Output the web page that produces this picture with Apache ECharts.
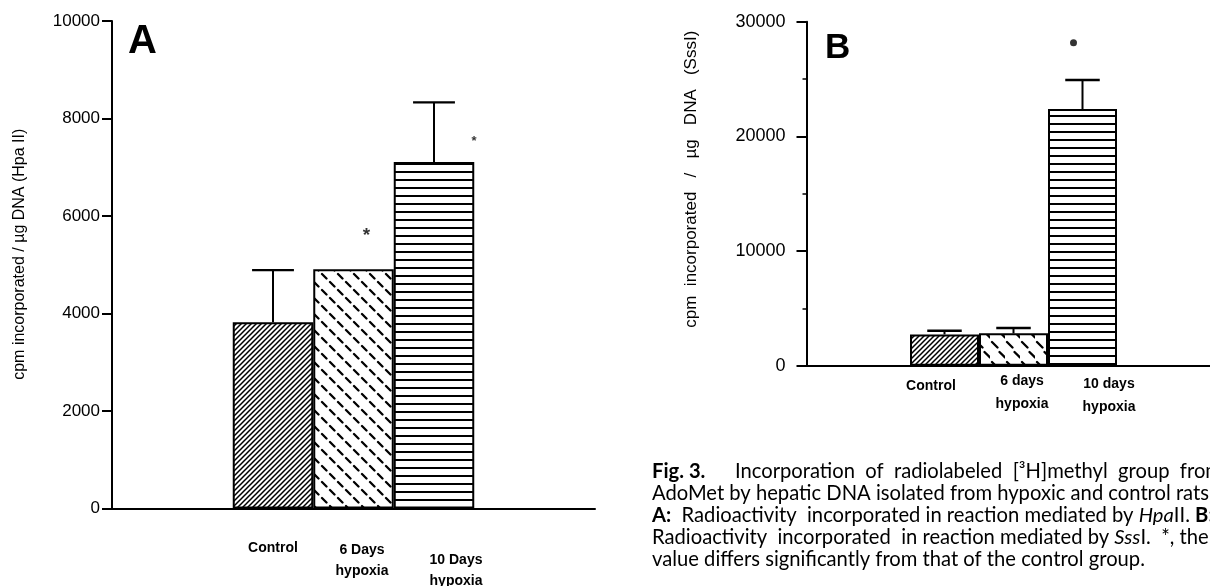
<!DOCTYPE html>
<html><head><meta charset="utf-8">
<script src="https://cdn.jsdelivr.net/npm/echarts@6/dist/echarts.min.js"></script>
<style>html,body{margin:0;padding:0;background:#fff}#c{width:1210px;height:586px}</style>
</head><body><div id="c"></div>
<script>
// ---- data ----
const categoriesA = ['Control', '6 Days\nhypoxia', '10 Days\nhypoxia'];
const valuesA = [3820, 4910, 7110];
const errorsA = [1070, null, 1220];
const markerA = [null, 5680, 7580];
const ticksA = [0, 2000, 4000, 6000, 8000, 10000];

const categoriesB = ['Control', '6 days\nhypoxia', '10 days\nhypoxia'];
const valuesB = [2730, 2820, 22380];
const errorsB = [320, 470, 2530];
const markerB = [null, null, 28170];
const ticksB = [0, 10000, 20000, 30000];

const yNameA = 'cpm incorporated / µg DNA (Hpa II)';
const yNameB = 'cpm  incorporated   /   µg   DNA   (SssI)';

// ---- patterns ----
function pat(w, h, draw) {
  const c = document.createElement('canvas'); c.width = w; c.height = h;
  const x = c.getContext('2d'); x.fillStyle = '#fff'; x.fillRect(0, 0, w, h);
  x.strokeStyle = '#000'; x.fillStyle = '#000'; draw(x, w, h);
  return { image: c, repeat: 'repeat' };
}
function diag(s, lw) {
  return pat(s, s, (x, w, h) => {
    x.lineWidth = lw; x.beginPath();
    x.moveTo(-1, h + 1); x.lineTo(w + 1, -1);
    x.moveTo(-1, 1); x.lineTo(1, -1);
    x.moveTo(w - 1, h + 1); x.lineTo(w + 1, h - 1);
    x.stroke();
  });
}
function dashes(w, h, len, lw) {
  return pat(w, h, (x) => {
    x.lineWidth = lw; x.lineCap = 'round'; x.beginPath();
    x.moveTo(2, 2); x.lineTo(2 + len, 2 + len);
    x.moveTo(2 + w / 2, 2 + h / 2); x.lineTo(2 + w / 2 + len, 2 + h / 2 + len);
    x.stroke();
  });
}
function stripes(h, lw) {
  return pat(4, h, (x) => { x.fillRect(0, Math.floor(h / 2) - 1, 4, lw); });
}
const patternsA = [diag(5, 1.5), dashes(16, 16, 4.5, 2.3), stripes(8, 2)];
const patternsB = [diag(5, 1.5), dashes(15, 20, 5.5, 2.3), stripes(8, 2)];

const PAD = 2;
function catData(cats, styles) {
  return [' ', '  '].concat(cats.map((c, i) => ({ value: c, textStyle: styles[i] }))).concat(['   ', '    ']);
}
function barData(values, patterns) {
  const d = ['-', '-'];
  values.forEach((v, i) => d.push({ value: v, itemStyle: { color: patterns[i] } }));
  d.push('-', '-');
  return d;
}
function errData(values, errors) {
  const d = [];
  values.forEach((v, i) => { if (errors[i] != null) d.push([PAD + i, v, v + errors[i]]); });
  return d;
}
function errSeries(ax, values, errors, capFrac) {
  return {
    type: 'custom', xAxisIndex: ax, yAxisIndex: ax, z: 5,
    encode: { x: 0, y: [1, 2] },
    data: errData(values, errors),
    renderItem(params, api) {
      const xi = api.value(0);
      const p0 = api.coord([xi, api.value(1)]);
      const p1 = api.coord([xi, api.value(2)]);
      const bw = api.size([1, 0], [xi, api.value(1)])[0];
      const hw = bw * capFrac;
      return { type: 'group', children: [
        { type: 'line', shape: { x1: p0[0], y1: p0[1], x2: p1[0], y2: p1[1] }, style: { stroke: '#000', lineWidth: 2 } },
        { type: 'line', shape: { x1: p1[0] - hw, y1: p1[1], x2: p1[0] + hw, y2: p1[1] }, style: { stroke: '#000', lineWidth: 2.4 } }
      ] };
    }
  };
}

const FONT = 'Liberation Sans';
const CAP = 'Lato';
const CAPSIZE = 20.2;
const axisBlack = { lineStyle: { color: '#000', width: 2 } };
const capRich = {
  b: { fontWeight: 'bold', fontFamily: CAP, fontSize: CAPSIZE },
  i: { fontStyle: 'italic', fontFamily: CAP, fontSize: CAPSIZE }
};
function capLine(x, y, text) {
  return { type: 'text', x: x, y: y, style: { text: text, font: CAPSIZE + 'px Lato', fill: '#000', verticalAlign: 'middle', rich: capRich } };
}

const option = {
  animation: false,
  backgroundColor: '#fff',
  grid: [
    { left: 112, right: 615, top: 21, bottom: 77.5, outerBoundsMode: 'none' },
    { left: 806.5, right: -10.5, top: 21.7, bottom: 220.3, outerBoundsMode: 'none' }
  ],
  xAxis: [
    {
      gridIndex: 0, type: 'category', boundaryGap: false,
      data: catData(categoriesA, [
        { padding: [0, 0, 0, 0] },
        { padding: [1.5, 0, 0, 17] },
        { padding: [11.5, 0, 0, 44] }
      ]),
      axisLine: axisBlack, axisTick: { show: false },
      axisLabel: { interval: 0, margin: 29.5, color: '#000', fontFamily: FONT, fontWeight: 'bold', fontSize: 14, lineHeight: 21 }
    },
    {
      gridIndex: 1, type: 'category', boundaryGap: false,
      data: catData(categoriesB, [
        { padding: [5, 27, 0, 0] },
        { padding: [0, 0, 0, 17] },
        { padding: [3, 0, 0, 53] }
      ]),
      axisLine: axisBlack, axisTick: { show: false },
      axisLabel: { interval: 0, margin: 3.5, color: '#000', fontFamily: FONT, fontWeight: 'bold', fontSize: 14, lineHeight: 23 }
    }
  ],
  yAxis: [
    {
      gridIndex: 0, type: 'value', min: ticksA[0], max: ticksA[ticksA.length - 1], interval: ticksA[1] - ticksA[0],
      axisLine: { show: true, lineStyle: { color: '#000', width: 2 } },
      axisTick: { show: true, length: 10, lineStyle: { color: '#000', width: 2 } },
      axisLabel: { margin: 12, color: '#000', fontFamily: FONT, fontSize: 17, formatter: v => String(v) },
      splitLine: { show: false },
      name: yNameA, nameLocation: 'middle', nameRotate: 90, nameGap: 84,
      nameTextStyle: { color: '#000', fontFamily: FONT, fontSize: 16, padding: [0, 0, 0, 21] }
    },
    {
      gridIndex: 1, type: 'value', min: ticksB[0], max: ticksB[ticksB.length - 1], interval: ticksB[1] - ticksB[0],
      axisLine: { show: true, lineStyle: { color: '#000', width: 2 } },
      axisTick: { show: true, length: 10, lineStyle: { color: '#000', width: 2 } },
      minorTick: { show: true, splitNumber: 2, length: 4, lineStyle: { color: '#000', width: 1.5 } },
      axisLabel: { margin: 21, color: '#000', fontFamily: FONT, fontSize: 18, formatter: v => String(v) },
      splitLine: { show: false },
      name: yNameB, nameLocation: 'middle', nameRotate: 90, nameGap: 107,
      nameTextStyle: { color: '#000', fontFamily: FONT, fontSize: 17, padding: [0, 0, 0, 29] }
    }
  ],
  series: [
    { type: 'bar', xAxisIndex: 0, yAxisIndex: 0, barWidth: '100%', data: barData(valuesA, patternsA),
      itemStyle: { borderColor: '#000', borderWidth: 2 } },
    { type: 'bar', xAxisIndex: 1, yAxisIndex: 1, barWidth: '100%', data: barData(valuesB, patternsB),
      itemStyle: { borderColor: '#000', borderWidth: 2 } },
    errSeries(0, valuesA, errorsA, 0.26),
    errSeries(1, valuesB, errorsB, 0.25),
    {
      type: 'scatter', xAxisIndex: 0, yAxisIndex: 0, symbolSize: 0, z: 6,
      data: markerA.map((m, i) => m == null ? null : { value: [PAD + i, m],
        label: i === 1 ? { offset: [13, 4], fontSize: 19 } : { offset: [40, 2.5], fontSize: 13 } }).filter(Boolean),
      label: { show: true, position: 'inside', formatter: '*', color: '#000', fontFamily: FONT, fontWeight: 'bold' }
    },
    {
      type: 'scatter', xAxisIndex: 1, yAxisIndex: 1, symbol: 'circle', symbolSize: 7, symbolOffset: [-9, 0], z: 6,
      itemStyle: { color: '#000' },
      data: markerB.map((m, i) => m == null ? null : [PAD + i, m]).filter(Boolean)
    }
  ],
  graphic: [
    { type: 'text', left: 128, top: 22, style: { text: 'A', font: 'bold 40px "Liberation Sans"', fill: '#000' } },
    { type: 'text', left: 825, top: 31, style: { text: 'B', font: 'bold 35px "Liberation Sans"', fill: '#000' } },
    capLine(652, 471, '{b|Fig. 3.}'),
    capLine(735, 471, 'Incorporation  of  radiolabeled  [³H]methyl  group  from'),
    capLine(652, 493, 'AdoMet by hepatic DNA isolated from hypoxic and control rats.'),
    capLine(652, 515, '{b|A:}  Radioactivity  incorporated in reaction mediated by {i|Hpa}II. {b|B:}'),
    capLine(652, 537, 'Radioactivity  incorporated  in reaction mediated by {i|Sss}I.  *, the'),
    capLine(652, 559, 'value differs significantly from that of the control group.')
  ]
};
const chart = echarts.init(document.getElementById('c'), null, { renderer: 'canvas' });
chart.setOption(option);
</script>
</body></html>
